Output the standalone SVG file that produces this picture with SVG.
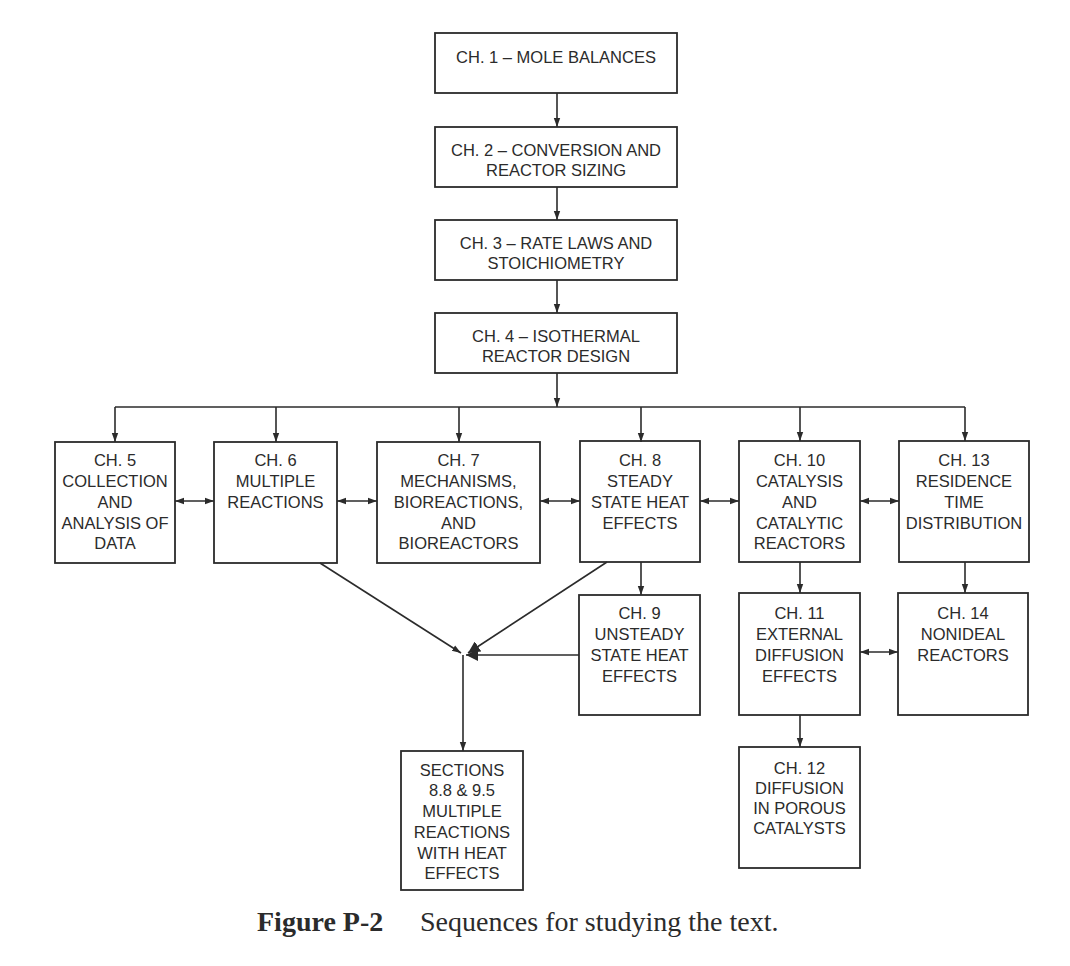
<svg xmlns="http://www.w3.org/2000/svg" width="1070" height="966" viewBox="0 0 1070 966">
<style>
.box{fill:none;stroke:#2b2b2b;stroke-width:1.8}
.t{font-family:"Liberation Sans",Arial,sans-serif;font-size:16.5px;fill:#2b2b2b;text-anchor:middle}
.c{fill:none;stroke:#2b2b2b;stroke-width:1.6}
.cap{font-family:"Liberation Serif","Times New Roman",serif;font-size:28px;fill:#2b2b2b}
</style>
<defs>
<marker id="ah" markerUnits="userSpaceOnUse" markerWidth="9" markerHeight="8" refX="9" refY="4" orient="auto-start-reverse" viewBox="0 0 9 8"><path d="M0,0.8 L9,4 L0,7.2 z" fill="#2b2b2b"/></marker>
<marker id="ahb" markerUnits="userSpaceOnUse" markerWidth="12" markerHeight="12" refX="12" refY="6" orient="auto" viewBox="0 0 12 12"><path d="M0,0 L12,6 L0,12 z" fill="#2b2b2b"/></marker>
</defs>
<rect width="1070" height="966" fill="#ffffff"/>
<g id="connectors">
<line class="c" x1="557" y1="93" x2="557" y2="127" marker-end="url(#ah)"/>
<line class="c" x1="557" y1="187" x2="557" y2="220" marker-end="url(#ah)"/>
<line class="c" x1="557" y1="280" x2="557" y2="313" marker-end="url(#ah)"/>
<line class="c" x1="557" y1="373" x2="557" y2="407" marker-end="url(#ah)"/>
<line class="c" x1="115" y1="407" x2="965" y2="407"/>
<line class="c" x1="115" y1="407" x2="115" y2="442" marker-end="url(#ah)"/>
<line class="c" x1="276" y1="407" x2="276" y2="442" marker-end="url(#ah)"/>
<line class="c" x1="459" y1="407" x2="459" y2="442" marker-end="url(#ah)"/>
<line class="c" x1="641" y1="407" x2="641" y2="442" marker-end="url(#ah)"/>
<line class="c" x1="800" y1="407" x2="800" y2="441" marker-end="url(#ah)"/>
<line class="c" x1="965" y1="407" x2="965" y2="441" marker-end="url(#ah)"/>
<line class="c" x1="175" y1="501" x2="214" y2="501" marker-start="url(#ah)" marker-end="url(#ah)"/>
<line class="c" x1="337" y1="501" x2="377" y2="501" marker-start="url(#ah)" marker-end="url(#ah)"/>
<line class="c" x1="540" y1="501" x2="580" y2="501" marker-start="url(#ah)" marker-end="url(#ah)"/>
<line class="c" x1="700" y1="501" x2="739" y2="501" marker-start="url(#ah)" marker-end="url(#ah)"/>
<line class="c" x1="860" y1="501" x2="899" y2="501" marker-start="url(#ah)" marker-end="url(#ah)"/>
<line class="c" x1="641" y1="562" x2="641" y2="595" marker-end="url(#ah)"/>
<line class="c" x1="800" y1="562" x2="800" y2="593" marker-end="url(#ah)"/>
<line class="c" x1="965" y1="562" x2="965" y2="593" marker-end="url(#ah)"/>
<line class="c" x1="800" y1="715" x2="800" y2="747" marker-end="url(#ah)"/>
<line class="c" x1="860" y1="652" x2="898" y2="652" marker-start="url(#ah)" marker-end="url(#ah)"/>
<line class="c" x1="320" y1="563" x2="461" y2="653" marker-end="url(#ah)"/>
<line class="c" x1="607" y1="562" x2="468" y2="653" marker-end="url(#ahb)"/>
<line class="c" x1="579" y1="655" x2="466" y2="655" marker-end="url(#ahb)"/>
<line class="c" x1="463" y1="655" x2="463" y2="751" marker-end="url(#ah)"/>
</g>
<g id="ch1"><rect class="box" x="435" y="33" width="242" height="60"/><text class="t" x="556" y="63">CH. 1 – MOLE BALANCES</text></g>
<g id="ch2"><rect class="box" x="435" y="127" width="242" height="60"/><text class="t" x="556" y="156">CH. 2 – CONVERSION AND</text><text class="t" x="556" y="176">REACTOR SIZING</text></g>
<g id="ch3"><rect class="box" x="435" y="220" width="242" height="60"/><text class="t" x="556" y="249">CH. 3 – RATE LAWS AND</text><text class="t" x="556" y="269">STOICHIOMETRY</text></g>
<g id="ch4"><rect class="box" x="435" y="313" width="242" height="60"/><text class="t" x="556" y="342">CH. 4 – ISOTHERMAL</text><text class="t" x="556" y="362">REACTOR DESIGN</text></g>
<g id="ch5"><rect class="box" x="55" y="442" width="120" height="121"/><text class="t" x="115" y="466">CH. 5</text><text class="t" x="115" y="487">COLLECTION</text><text class="t" x="115" y="508">AND</text><text class="t" x="115" y="529">ANALYSIS OF</text><text class="t" x="115" y="549">DATA</text></g>
<g id="ch6"><rect class="box" x="214" y="442" width="123" height="121"/><text class="t" x="275.5" y="466">CH. 6</text><text class="t" x="275.5" y="487">MULTIPLE</text><text class="t" x="275.5" y="508">REACTIONS</text></g>
<g id="ch7"><rect class="box" x="377" y="442" width="163" height="121"/><text class="t" x="458.5" y="466">CH. 7</text><text class="t" x="458.5" y="487">MECHANISMS,</text><text class="t" x="458.5" y="508">BIOREACTIONS,</text><text class="t" x="458.5" y="529">AND</text><text class="t" x="458.5" y="549">BIOREACTORS</text></g>
<g id="ch8"><rect class="box" x="580" y="441" width="120" height="121"/><text class="t" x="640" y="466">CH. 8</text><text class="t" x="640" y="487">STEADY</text><text class="t" x="640" y="508">STATE HEAT</text><text class="t" x="640" y="529">EFFECTS</text></g>
<g id="ch10"><rect class="box" x="739" y="441" width="121" height="121"/><text class="t" x="799.5" y="466">CH. 10</text><text class="t" x="799.5" y="487">CATALYSIS</text><text class="t" x="799.5" y="508">AND</text><text class="t" x="799.5" y="529">CATALYTIC</text><text class="t" x="799.5" y="549">REACTORS</text></g>
<g id="ch13"><rect class="box" x="899" y="441" width="130" height="121"/><text class="t" x="964" y="466">CH. 13</text><text class="t" x="964" y="487">RESIDENCE</text><text class="t" x="964" y="508">TIME</text><text class="t" x="964" y="529">DISTRIBUTION</text></g>
<g id="ch9"><rect class="box" x="579" y="595" width="121" height="120"/><text class="t" x="639.5" y="619">CH. 9</text><text class="t" x="639.5" y="640">UNSTEADY</text><text class="t" x="639.5" y="661">STATE HEAT</text><text class="t" x="639.5" y="682">EFFECTS</text></g>
<g id="ch11"><rect class="box" x="739" y="593" width="121" height="122"/><text class="t" x="799.5" y="619">CH. 11</text><text class="t" x="799.5" y="640">EXTERNAL</text><text class="t" x="799.5" y="661">DIFFUSION</text><text class="t" x="799.5" y="682">EFFECTS</text></g>
<g id="ch14"><rect class="box" x="898" y="593" width="130" height="122"/><text class="t" x="963" y="619">CH. 14</text><text class="t" x="963" y="640">NONIDEAL</text><text class="t" x="963" y="661">REACTORS</text></g>
<g id="ch12"><rect class="box" x="739" y="747" width="121" height="121"/><text class="t" x="799.5" y="774">CH. 12</text><text class="t" x="799.5" y="794">DIFFUSION</text><text class="t" x="799.5" y="814">IN POROUS</text><text class="t" x="799.5" y="834">CATALYSTS</text></g>
<g id="sections"><rect class="box" x="401" y="751" width="122" height="139"/><text class="t" x="462" y="776">SECTIONS</text><text class="t" x="462" y="796">8.8 &amp; 9.5</text><text class="t" x="462" y="817">MULTIPLE</text><text class="t" x="462" y="838">REACTIONS</text><text class="t" x="462" y="859">WITH HEAT</text><text class="t" x="462" y="879">EFFECTS</text></g>
<g id="caption"><text class="cap" x="257" y="931"><tspan font-weight="bold">Figure P-2</tspan><tspan x="420">Sequences for studying the text.</tspan></text></g>
</svg>
